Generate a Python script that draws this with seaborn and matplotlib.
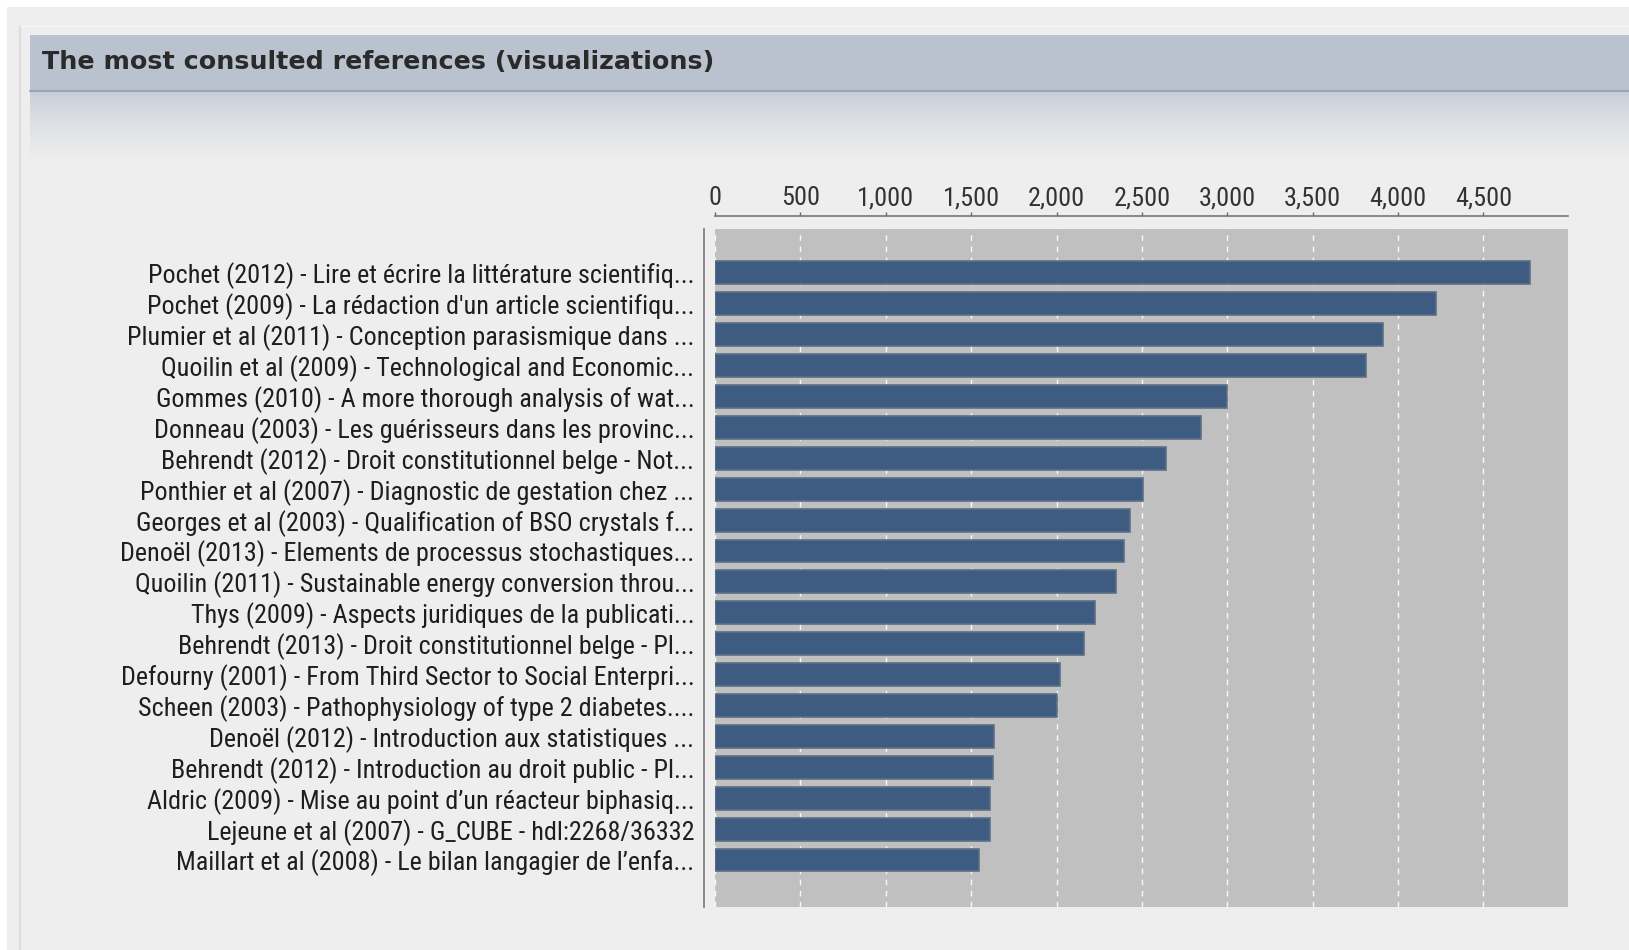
import matplotlib
matplotlib.use("Agg")
import matplotlib.pyplot as plt
import matplotlib.ticker as mticker
from matplotlib import font_manager
import numpy as np
import pandas as pd
import seaborn as sns

references = [
    "Pochet (2012) - Lire et écrire la littérature scientifiq...",
    "Pochet (2009) - La rédaction d'un article scientifiqu...",
    "Plumier et al (2011) - Conception parasismique dans ...",
    "Quoilin et al (2009) - Technological and Economic...",
    "Gommes (2010) - A more thorough analysis of wat...",
    "Donneau (2003) - Les guérisseurs dans les provinc...",
    "Behrendt (2012) - Droit constitutionnel belge - Not...",
    "Ponthier et al (2007) - Diagnostic de gestation chez ...",
    "Georges et al (2003) - Qualification of BSO crystals f...",
    "Denoël (2013) - Elements de processus stochastiques...",
    "Quoilin (2011) - Sustainable energy conversion throu...",
    "Thys (2009) - Aspects juridiques de la publicati...",
    "Behrendt (2013) - Droit constitutionnel belge - Pl...",
    "Defourny (2001) - From Third Sector to Social Enterpri...",
    "Scheen (2003) - Pathophysiology of type 2 diabetes....",
    "Denoël (2012) - Introduction aux statistiques ...",
    "Behrendt (2012) - Introduction au droit public - Pl...",
    "Aldric (2009) - Mise au point d\u2019un réacteur biphasiq...",
    "Lejeune et al (2007) - G_CUBE - hdl:2268/36332",
    "Maillart et al (2008) - Le bilan langagier de l\u2019enfa...",
]
visualizations = [4770, 4220, 3910, 3815, 3000, 2845, 2640, 2505, 2430, 2395,
                  2350, 2225, 2160, 2020, 2000, 1635, 1625, 1612, 1612, 1545]
x_ticks = [0, 500, 1000, 1500, 2000, 2500, 3000, 3500, 4000, 4500]

df = pd.DataFrame({"Reference": references, "Visualizations": visualizations})

sns.set_theme(style="white")

# narrow font if available
label_font = "DejaVu Sans"
for cand in ["Liberation Sans Narrow", "Roboto Condensed", "DejaVu Sans Condensed"]:
    try:
        font_manager.findfont(cand, fallback_to_default=False)
        label_font = cand
        break
    except Exception:
        pass
plt.rcParams["font.family"] = [label_font, "DejaVu Sans"]

W, H = 1629, 950
fig = plt.figure(figsize=(W / 100, H / 100), dpi=100, facecolor="#eeeeee")

# decorative panel / header
bg = fig.add_axes([0, 0, 1, 1], zorder=-1)
bg.set_xlim(0, W)
bg.set_ylim(H, 0)
bg.axis("off")
bg.add_patch(plt.Rectangle((0, 0), W, 7, color="white", lw=0))
bg.add_patch(plt.Rectangle((0, 0), 7, H, color="white", lw=0))
bg.plot([20, 20], [26, H], color="#dcdcdc", lw=1.5)
bg.plot([20, W], [26, 26], color="#f6f6f6", lw=1)
grad = np.linspace(0, 1, 100).reshape(-1, 1)
top_c = np.array([0.77, 0.80, 0.84])
bot_c = np.array([0.933, 0.933, 0.933])
img = top_c + (bot_c - top_c) * grad[..., None] ** 0.7
bg.imshow(img, extent=(30, W, 160, 91), aspect="auto", interpolation="bilinear")
bg.add_patch(plt.Rectangle((30, 35), W - 30, 55, color="#b9c2ce", lw=0))
bg.plot([30, W], [90.5, 90.5], color="#9aa6b4", lw=1.5)
bg.text(42, 62, "The most consulted references (visualizations)", fontsize=18.3,
        fontweight="bold", color="#2a2a2a", va="center", ha="left",
        family="DejaVu Sans")

ax = fig.add_axes([715 / W, 1 - 907 / H, (1568 - 715) / W, (907 - 229) / H])
sns.barplot(data=df, x="Visualizations", y="Reference", orient="h", ax=ax,
            color="#3e5b82", saturation=1, width=0.74,
            edgecolor="#5d6f86", linewidth=1.2, zorder=3)
ax.set_facecolor("#c0c0c0")
ax.set_xlim(0, 4995)
ax.set_ylim(20.52, -1.42)
ax.set_xlabel("")
ax.set_ylabel("")

ax.xaxis.tick_top()
ax.set_xticks(x_ticks)
ax.xaxis.set_major_formatter(mticker.StrMethodFormatter("{x:,.0f}"))
ax.tick_params(axis="x", which="both", top=True, bottom=False, direction="out",
               length=3, width=1, color="#666666", labelsize=12.5,
               labelcolor="#333333", pad=1)
ax.tick_params(axis="y", left=False, length=0, labelsize=12.2,
               labelcolor="#1e1e1e", pad=7)
ax.grid(axis="x", color="white", linestyle=(0, (4, 4)), lw=1, alpha=0.9, zorder=1)
ax.set_axisbelow(True)

for side in ["right", "bottom"]:
    ax.spines[side].set_visible(False)
ax.spines["top"].set_position(("outward", 9.4))
ax.spines["left"].set_position(("outward", 7.9))
ax.spines["top"].set_color("#777777")
ax.spines["left"].set_color("#777777")
ax.spines["top"].set_linewidth(1.2)
ax.spines["left"].set_linewidth(1.2)

# fit label sizes to the reference widths
fig.canvas.draw()
r = fig.canvas.get_renderer()
ylabs = ax.get_yticklabels()
widest = max(t.get_window_extent(r).width for t in ylabs)
ysize = 12.2 * 573 / widest
for t in ylabs:
    t.set_fontsize(ysize)
xlabs = ax.get_xticklabels()
xw = xlabs[4].get_window_extent(r).width
xsize = 12.5 * 57 / xw
for t in xlabs:
    t.set_fontsize(xsize)

fig.savefig("out.png", dpi=100, facecolor=fig.get_facecolor())
